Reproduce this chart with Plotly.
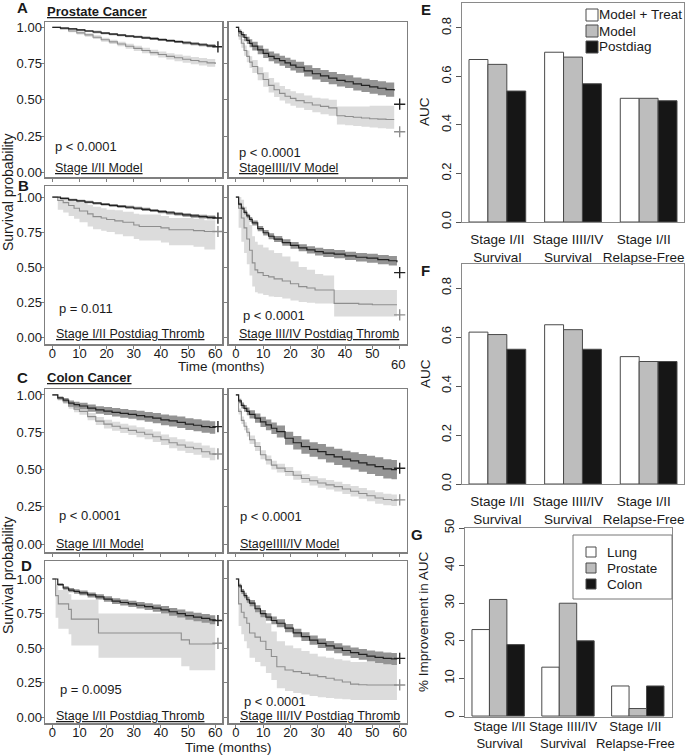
import plotly.graph_objects as go

# ---------------- Kaplan-Meier data ----------------
# Panel A-left: Prostate, Stage I/II Model
A1_t = [0,3,6,9,12,15,18,21,24,27,30,33,36,39,42,45,48,51,54,57,60]
A1_dark = [1,0.995,0.99,0.982,0.975,0.968,0.96,0.953,0.946,0.94,0.934,0.928,0.922,0.915,0.908,0.901,0.894,0.887,0.88,0.873,0.866]
A1_dark_lo = [1,0.99,0.984,0.975,0.968,0.96,0.952,0.945,0.938,0.932,0.926,0.919,0.913,0.906,0.899,0.892,0.884,0.877,0.87,0.862,0.855]
A1_dark_hi = [1,1,0.996,0.989,0.982,0.976,0.968,0.961,0.954,0.948,0.942,0.937,0.931,0.924,0.917,0.91,0.904,0.897,0.89,0.884,0.877]
A1_light = [1,0.99,0.975,0.962,0.948,0.932,0.915,0.9,0.885,0.87,0.855,0.84,0.826,0.813,0.8,0.79,0.78,0.771,0.763,0.755,0.748]
A1_light_lo = [1,0.984,0.966,0.951,0.936,0.919,0.901,0.885,0.869,0.853,0.837,0.821,0.806,0.792,0.778,0.767,0.756,0.746,0.737,0.728,0.72]
A1_light_hi = [1,0.996,0.984,0.973,0.96,0.945,0.929,0.915,0.901,0.887,0.873,0.859,0.846,0.834,0.822,0.813,0.804,0.796,0.789,0.782,0.776]
A1_cens = [[61], [0.866], [], []]

# Panel A-right: Prostate, Stage III/IV Model
A2_t = [0,1,2,3,4,5,6,8,10,12,14,16,18,20,22,25,28,31,34,37,40,43,46,49,52,55,58]
A2_dark = [1,0.97,0.95,0.93,0.91,0.89,0.87,0.845,0.82,0.80,0.785,0.77,0.755,0.74,0.725,0.70,0.68,0.665,0.65,0.635,0.625,0.61,0.60,0.59,0.58,0.57,0.565]
A2_dark_lo = [1,0.955,0.93,0.905,0.885,0.862,0.84,0.815,0.788,0.767,0.751,0.735,0.719,0.703,0.687,0.661,0.64,0.624,0.608,0.592,0.581,0.565,0.554,0.543,0.532,0.521,0.515]
A2_dark_hi = [1,0.985,0.97,0.955,0.935,0.918,0.9,0.875,0.852,0.833,0.819,0.805,0.791,0.777,0.763,0.739,0.72,0.706,0.692,0.678,0.669,0.655,0.646,0.637,0.628,0.619,0.615]
A2_light = [1,0.94,0.89,0.84,0.80,0.76,0.73,0.68,0.64,0.60,0.57,0.545,0.525,0.51,0.495,0.48,0.465,0.455,0.445,0.39,0.385,0.38,0.375,0.37,0.367,0.365,0.365]
A2_light_lo = [1,0.915,0.86,0.805,0.76,0.72,0.685,0.635,0.59,0.55,0.52,0.495,0.475,0.46,0.445,0.43,0.415,0.40,0.39,0.33,0.325,0.32,0.315,0.31,0.305,0.30,0.30]
A2_light_hi = [1,0.965,0.92,0.875,0.84,0.80,0.775,0.725,0.69,0.65,0.62,0.595,0.575,0.56,0.545,0.53,0.515,0.51,0.50,0.455,0.455,0.455,0.455,0.46,0.46,0.46,0.46]
A2_cens = [[60], [0.47], [60], [0.28]]

# Panel B-left: Prostate, Stage I/II Postdiag Thromb
B1_t = [0,3,6,9,12,15,18,21,24,27,30,33,36,39,42,45,48,51,54,57,60]
B1_dark = [1,0.99,0.98,0.972,0.964,0.956,0.948,0.94,0.934,0.927,0.92,0.912,0.904,0.896,0.888,0.88,0.872,0.866,0.86,0.855,0.85]
B1_dark_lo = [1,0.983,0.972,0.963,0.955,0.947,0.939,0.931,0.924,0.917,0.91,0.901,0.893,0.885,0.876,0.868,0.86,0.853,0.847,0.841,0.836]
B1_dark_hi = [1,0.997,0.988,0.981,0.973,0.965,0.957,0.949,0.944,0.937,0.93,0.923,0.915,0.907,0.9,0.892,0.884,0.879,0.873,0.869,0.864]
B1_tl = [0,2,4,6,8,10,13,15,18,20,23,26,30,32,36,40,43,47,52,56,60]
B1_light = [1,0.975,0.96,0.94,0.92,0.90,0.88,0.86,0.85,0.84,0.83,0.82,0.80,0.79,0.79,0.78,0.766,0.766,0.76,0.754,0.754]
B1_light_lo = [1,0.91,0.89,0.865,0.845,0.82,0.79,0.77,0.76,0.75,0.735,0.72,0.70,0.69,0.69,0.675,0.655,0.655,0.645,0.625,0.625]
B1_light_hi = [1,1,0.995,0.985,0.97,0.96,0.945,0.93,0.92,0.91,0.905,0.895,0.88,0.875,0.875,0.865,0.85,0.85,0.845,0.835,0.835]
B1_cens = [[61], [0.85], [61], [0.754]]

# Panel B-right: Prostate, Stage III/IV Postdiag Thromb
B2_t = [0,1,2,3,4,5,6,8,10,12,14,17,20,23,26,29,32,36,40,44,48,52,56,59]
B2_dark = [1,0.95,0.92,0.89,0.865,0.84,0.815,0.775,0.745,0.72,0.70,0.675,0.655,0.637,0.622,0.61,0.60,0.592,0.58,0.57,0.563,0.553,0.545,0.535]
B2_dark_lo = [1,0.94,0.907,0.875,0.849,0.823,0.797,0.756,0.725,0.699,0.678,0.652,0.631,0.612,0.596,0.583,0.572,0.563,0.55,0.539,0.531,0.52,0.511,0.5]
B2_dark_hi = [1,0.96,0.933,0.905,0.881,0.857,0.833,0.794,0.765,0.741,0.722,0.698,0.679,0.662,0.648,0.637,0.628,0.621,0.61,0.601,0.595,0.586,0.579,0.57]
B2_tl = [0,1,2,3,4,5,6,7,8,10,12,14,17,20,23,26,29,32,36,40,45,50,55,59]
B2_light = [1,0.92,0.85,0.78,0.70,0.62,0.53,0.48,0.46,0.44,0.43,0.415,0.40,0.38,0.36,0.35,0.336,0.336,0.24,0.24,0.235,0.23,0.23,0.23]
B2_light_lo = [1,0.78,0.68,0.60,0.52,0.44,0.36,0.32,0.31,0.30,0.29,0.285,0.275,0.26,0.25,0.245,0.24,0.24,0.146,0.146,0.146,0.146,0.146,0.146]
B2_light_hi = [1,1,0.98,0.93,0.87,0.80,0.72,0.68,0.66,0.64,0.62,0.60,0.575,0.54,0.50,0.48,0.45,0.44,0.336,0.336,0.336,0.336,0.336,0.336]
B2_cens = [[60], [0.46], [60], [0.158]]

# Panel C-left: Colon, Stage I/II Model
C1_t = [0,2,4,6,8,10,13,16,19,22,25,28,31,34,37,40,43,46,49,52,55,58,60]
C1_dark = [1,0.98,0.965,0.945,0.935,0.926,0.912,0.9,0.892,0.884,0.877,0.87,0.862,0.853,0.845,0.833,0.826,0.817,0.805,0.797,0.788,0.782,0.78]
C1_dark_lo = [1,0.97,0.95,0.927,0.915,0.904,0.888,0.875,0.865,0.856,0.848,0.84,0.83,0.82,0.81,0.797,0.789,0.779,0.766,0.757,0.747,0.74,0.737]
C1_dark_hi = [1,0.99,0.98,0.963,0.955,0.948,0.936,0.925,0.919,0.912,0.906,0.9,0.894,0.886,0.88,0.869,0.863,0.855,0.844,0.837,0.829,0.824,0.823]
C1_light = [1,0.975,0.955,0.925,0.905,0.89,0.855,0.825,0.805,0.79,0.777,0.763,0.75,0.737,0.72,0.70,0.68,0.665,0.65,0.64,0.62,0.605,0.598]
C1_light_lo = [1,0.963,0.94,0.907,0.884,0.867,0.83,0.798,0.776,0.76,0.746,0.731,0.717,0.703,0.685,0.664,0.643,0.627,0.611,0.6,0.579,0.563,0.555]
C1_light_hi = [1,0.987,0.97,0.943,0.926,0.913,0.88,0.852,0.834,0.82,0.808,0.795,0.783,0.771,0.755,0.736,0.717,0.703,0.689,0.68,0.661,0.647,0.641]
C1_cens = [[61], [0.788], [61], [0.605]]

# Panel C-right: Colon, Stage III/IV Model
C2_t = [0,1,2,3,4,5,7,9,11,13,15,18,21,24,27,30,33,36,39,42,45,48,51,54,57,59]
C2_dark = [1,0.96,0.93,0.91,0.89,0.87,0.845,0.82,0.80,0.777,0.755,0.71,0.68,0.654,0.635,0.62,0.60,0.585,0.57,0.558,0.545,0.532,0.52,0.505,0.50,0.50]
C2_dark_lo = [1,0.945,0.91,0.887,0.864,0.842,0.814,0.786,0.764,0.739,0.715,0.667,0.635,0.607,0.586,0.569,0.547,0.531,0.514,0.5,0.486,0.471,0.457,0.441,0.436,0.436]
C2_dark_hi = [1,0.975,0.95,0.933,0.916,0.898,0.876,0.854,0.836,0.815,0.795,0.753,0.725,0.701,0.684,0.671,0.653,0.639,0.626,0.616,0.604,0.593,0.583,0.569,0.564,0.564]
C2_light = [1,0.89,0.83,0.79,0.75,0.70,0.655,0.60,0.565,0.53,0.51,0.487,0.462,0.44,0.425,0.41,0.398,0.386,0.37,0.355,0.34,0.325,0.31,0.30,0.295,0.292]
C2_light_lo = [1,0.87,0.805,0.763,0.722,0.671,0.625,0.57,0.535,0.5,0.48,0.457,0.432,0.41,0.394,0.378,0.366,0.353,0.336,0.32,0.304,0.288,0.272,0.262,0.256,0.253]
C2_light_hi = [1,0.91,0.855,0.817,0.778,0.729,0.685,0.63,0.595,0.56,0.54,0.517,0.492,0.47,0.456,0.442,0.43,0.419,0.404,0.39,0.376,0.362,0.348,0.338,0.334,0.331]
C2_cens = [[60], [0.509], [60], [0.297]]

# Panel D-left: Colon, Stage I/II Postdiag Thromb
D1_t = [0,2,4,6,8,10,13,16,19,22,25,28,31,34,37,40,43,46,49,52,55,58,60]
D1_dark = [1,0.96,0.935,0.92,0.91,0.90,0.885,0.87,0.855,0.84,0.83,0.82,0.81,0.80,0.79,0.777,0.763,0.75,0.735,0.725,0.715,0.705,0.70]
D1_dark_lo = [1,0.95,0.922,0.905,0.894,0.883,0.867,0.851,0.835,0.819,0.808,0.797,0.786,0.775,0.764,0.75,0.735,0.721,0.705,0.694,0.683,0.672,0.667]
D1_dark_hi = [1,0.97,0.948,0.935,0.926,0.917,0.903,0.889,0.875,0.861,0.852,0.843,0.834,0.825,0.816,0.804,0.791,0.779,0.765,0.756,0.747,0.738,0.733]
D1_tl = [0,1.2,2.2,6,7,17,47.5,50.5,60]
D1_light = [1,0.88,0.82,0.78,0.71,0.61,0.56,0.53,0.53]
D1_light_lo = [1,0.72,0.64,0.60,0.52,0.43,0.37,0.34,0.34]
D1_light_hi = [1,0.96,0.92,0.89,0.85,0.75,0.74,0.73,0.73]
D1_cens = [[61], [0.70], [61], [0.535]]

# Panel D-right: Colon, Stage III/IV Postdiag Thromb
D2_t = [0,1,2,3,4,5,7,9,11,13,15,18,21,24,27,30,33,36,39,42,45,48,51,54,57,59]
D2_dark = [1,0.95,0.91,0.88,0.85,0.825,0.785,0.75,0.725,0.70,0.68,0.645,0.61,0.583,0.558,0.535,0.517,0.50,0.483,0.467,0.455,0.443,0.434,0.426,0.422,0.42]
D2_dark_lo = [1,0.935,0.892,0.86,0.828,0.802,0.76,0.724,0.698,0.672,0.651,0.615,0.579,0.551,0.525,0.501,0.482,0.464,0.446,0.429,0.416,0.403,0.393,0.384,0.379,0.377]
D2_dark_hi = [1,0.965,0.928,0.9,0.872,0.848,0.81,0.776,0.752,0.728,0.709,0.675,0.641,0.615,0.591,0.569,0.552,0.536,0.52,0.505,0.494,0.483,0.475,0.468,0.465,0.463]
D2_light = [1,0.82,0.76,0.72,0.68,0.61,0.58,0.55,0.49,0.44,0.366,0.342,0.33,0.318,0.305,0.294,0.282,0.27,0.255,0.24,0.236,0.234,0.234,0.234,0.234,0.234]
D2_light_lo = [1,0.66,0.60,0.55,0.50,0.43,0.40,0.37,0.32,0.27,0.21,0.19,0.175,0.165,0.155,0.145,0.14,0.135,0.13,0.125,0.125,0.125,0.125,0.125,0.125,0.125]
D2_light_hi = [1,0.95,0.92,0.88,0.84,0.80,0.77,0.74,0.68,0.62,0.55,0.52,0.50,0.48,0.46,0.44,0.43,0.42,0.41,0.40,0.40,0.40,0.40,0.40,0.40,0.40]
D2_cens = [[60], [0.426], [60], [0.234]]

# ---------------- Bar chart data ----------------
bar_cats = ["Stage I/II<br>Survival", "Stage IIII/IV<br>Survival", "Stage I/II<br>Relapse-Free"]
E_model_treat = [0.67, 0.70, 0.51]
E_model = [0.65, 0.68, 0.51]
E_postdiag = [0.54, 0.57, 0.50]
F_model_treat = [0.62, 0.65, 0.52]
F_model = [0.61, 0.63, 0.50]
F_postdiag = [0.55, 0.55, 0.50]
G_lung = [23, 13, 8]
G_prostate = [31, 30, 2]
G_colon = [19, 20, 8]
E_legend = ["Model + Treat", "Model", "Postdiag"]
G_legend = ["Lung", "Prostate", "Colon"]

km_yticks = [0, 0.25, 0.5, 0.75, 1.0]
km_yticklabels = ["0.00", "0.25", "0.50", "0.75", "1.00"]
km_xticks = [0, 10, 20, 30, 40, 50, 60]

# ---------------- Styling / layout helpers ----------------
W, H = 685, 755
FONT = "Liberation Sans, Arial, Helvetica, sans-serif"
TXT = "#1a1a1a"
BOX = "#7f7f7f"
DARK_LINE, DARK_BAND = "#222222", "#949494"
LIGHT_LINE, LIGHT_BAND = "#8e8e8e", "#dcdcdc"


def xd(a, b):
    return [a / W, b / W]


def yd(top, bottom):
    return [1 - bottom / H, 1 - top / H]


def px(x):
    return x / W


def py(y):
    return 1 - y / H


fig = go.Figure()
layout = {}
annotations = []
shapes = []


def ann(x, y, text, size=13, xanchor="left", yanchor="middle", angle=0, bold=False):
    if bold:
        text = "<b>" + text + "</b>"
    annotations.append(dict(x=px(x), y=py(y), xref="paper", yref="paper", text=text,
                            showarrow=False, xanchor=xanchor, yanchor=yanchor, textangle=angle,
                            font=dict(family=FONT, size=size, color=TXT)))


cols = {"L": (45, 222), "R": (228.5, 406.5)}
rows = {"A": (22, 177, [-0.032, 1.037]), "B": (186, 344, [-0.05, 1.079]),
        "C": (389, 552, [-0.052, 1.04]), "D": (561, 723, [-0.041, 1.13])}

km_panels = [
    ("A", "L", A1_t, A1_dark, A1_dark_lo, A1_dark_hi, A1_t, A1_light, A1_light_lo, A1_light_hi, A1_cens,
     False, "p &lt; 0.0001", "Stage I/II Model", 53, 147, 53, 168),
    ("A", "R", A2_t, A2_dark, A2_dark_lo, A2_dark_hi, A2_t, A2_light, A2_light_lo, A2_light_hi, A2_cens,
     False, "p &lt; 0.0001", "StageIIII/IV Model", 237, 152, 237, 168),
    ("B", "L", B1_t, B1_dark, B1_dark_lo, B1_dark_hi, B1_tl, B1_light, B1_light_lo, B1_light_hi, B1_cens,
     True, "p = 0.011", "Stage I/II Postdiag Thromb", 57, 308, 54, 334),
    ("B", "R", B2_t, B2_dark, B2_dark_lo, B2_dark_hi, B2_tl, B2_light, B2_light_lo, B2_light_hi, B2_cens,
     True, "p &lt; 0.0001", "Stage III/IV Postdiag Thromb", 241, 316, 237, 334),
    ("C", "L", C1_t, C1_dark, C1_dark_lo, C1_dark_hi, C1_t, C1_light, C1_light_lo, C1_light_hi, C1_cens,
     False, "p &lt; 0.0001", "Stage I/II Model", 57, 515, 54, 544),
    ("C", "R", C2_t, C2_dark, C2_dark_lo, C2_dark_hi, C2_t, C2_light, C2_light_lo, C2_light_hi, C2_cens,
     False, "p &lt; 0.0001", "StageIIII/IV Model", 238, 516, 238, 544),
    ("D", "L", D1_t, D1_dark, D1_dark_lo, D1_dark_hi, D1_tl, D1_light, D1_light_lo, D1_light_hi, D1_cens,
     True, "p = 0.0095", "Stage I/II Postdiag Thromb", 58, 689, 54, 716),
    ("D", "R", D2_t, D2_dark, D2_dark_lo, D2_dark_hi, D2_t, D2_light, D2_light_lo, D2_light_hi, D2_cens,
     True, "p &lt; 0.0001", "Stage III/IV Postdiag Thromb", 242, 701, 238, 716),
]

for i, (r, c, td, sd, dlo, dhi, tl, sl, llo, lhi, cens, showx, ptxt, title, pxx, pyy, tx, ty) in enumerate(km_panels, start=1):
    xa = "x" if i == 1 else f"x{i}"
    ya = "y" if i == 1 else f"y{i}"
    xk = "xaxis" if i == 1 else f"xaxis{i}"
    yk = "yaxis" if i == 1 else f"yaxis{i}"
    top, bottom, yr = rows[r]
    x0, x1 = cols[c]

    def band(t, lo, hi, color):
        fig.add_trace(go.Scatter(x=t, y=lo, mode="lines", line=dict(width=0, shape="hv", color=color),
                                 xaxis=xa, yaxis=ya, showlegend=False, hoverinfo="skip"))
        fig.add_trace(go.Scatter(x=t, y=hi, mode="lines", line=dict(width=0, shape="hv", color=color),
                                 fill="tonexty", fillcolor=color, xaxis=xa, yaxis=ya, showlegend=False,
                                 hoverinfo="skip"))

    band(tl, llo, lhi, LIGHT_BAND)
    band(td, dlo, dhi, DARK_BAND)
    fig.add_trace(go.Scatter(x=tl, y=sl, mode="lines", line=dict(width=1.1, shape="hv", color=LIGHT_LINE),
                             xaxis=xa, yaxis=ya, showlegend=False))
    fig.add_trace(go.Scatter(x=td, y=sd, mode="lines", line=dict(width=1.2, shape="hv", color=DARK_LINE),
                             xaxis=xa, yaxis=ya, showlegend=False))
    fig.add_trace(go.Scatter(x=cens[0], y=cens[1], mode="markers",
                             marker=dict(symbol="cross-thin", size=8, line=dict(width=1.4, color=DARK_LINE)),
                             xaxis=xa, yaxis=ya, showlegend=False))
    fig.add_trace(go.Scatter(x=cens[2], y=cens[3], mode="markers",
                             marker=dict(symbol="cross-thin", size=8, line=dict(width=1.4, color=LIGHT_LINE)),
                             xaxis=xa, yaxis=ya, showlegend=False))

    ticktext = [str(v) for v in km_xticks]
    if r == "B" and c == "R":
        ticktext[-1] = ""
    layout[xk] = dict(domain=xd(x0, x1), range=[-2.7, 62.5], anchor=ya, tickvals=km_xticks,
                      ticktext=ticktext, ticks="outside", ticklen=3, tickcolor=BOX, showline=True,
                      mirror=True, linecolor=BOX, linewidth=1.5, showgrid=False, zeroline=False,
                      showticklabels=showx, tickfont=dict(family=FONT, size=13, color=TXT),
                      ticklabelstandoff=-6, fixedrange=True, automargin=False)
    layout[yk] = dict(domain=yd(top, bottom), range=yr, anchor=xa, tickvals=km_yticks,
                      ticktext=km_yticklabels, ticks="outside", ticklen=3, tickcolor=BOX, showline=True,
                      mirror=True, linecolor=BOX, linewidth=1.5, showgrid=False, zeroline=False,
                      showticklabels=(c == "L"), tickfont=dict(family=FONT, size=13, color=TXT),
                      ticklabelstandoff=-4, fixedrange=True, automargin=False)

    ann(pxx, pyy, ptxt, size=13)
    ann(tx, ty, "<u>" + title + "</u>", size=12.5)

# ---------------- Bar panels ----------------
bar_panels = [
    (9, (462, 684), (3, 222), [0, 0.903], [E_model_treat, E_model, E_postdiag], [0, 0.2, 0.4, 0.6, 0.8],
     ["0.0", "0.2", "0.4", "0.6", "0.8"], [-0.4675, 2.4675], 13.5, 5, [0, 0.935, 1.935]),
    (10, (462, 684), (264, 484), [0, 0.898], [F_model_treat, F_model, F_postdiag], [0, 0.2, 0.4, 0.6, 0.8],
     ["0.0", "0.2", "0.4", "0.6", "0.8"], [-0.4675, 2.4675], 13.5, 5, [0, 0.935, 1.935]),
    (11, (465, 672), (528, 717), [-0.25, 50], [G_lung, G_prostate, G_colon], [0, 10, 20, 30, 40, 50],
     ["0", "10", "20", "30", "40", "50"], [-0.475, 2.49], 13, -3, [0.02, 0.93, 1.965]),
]
bar_colors = ["#ffffff", "#bdbdbd", "#161616"]
for i, xdom, ydom, yr, series, tv, tt, xr, fs, so, xtv in bar_panels:
    xa, ya = f"x{i}", f"y{i}"
    for vals, col in zip(series, bar_colors):
        fig.add_trace(go.Bar(x=bar_cats, y=vals, marker=dict(color=col, line=dict(color="#4a4a4a", width=1)),
                             xaxis=xa, yaxis=ya, showlegend=False))
    layout[f"xaxis{i}"] = dict(domain=xd(*xdom), range=xr, anchor=ya, type="category", ticks="",
                               tickmode="array", tickvals=xtv, ticktext=bar_cats,
                               tickangle=0, showline=True, mirror=True, linecolor="#8a8a8a", linewidth=1,
                               showgrid=False, zeroline=False, tickfont=dict(family=FONT, size=fs, color=TXT),
                               ticklabelstandoff=so, fixedrange=True, automargin=False)
    layout[f"yaxis{i}"] = dict(domain=yd(*ydom), range=yr, anchor=xa, tickvals=tv, ticktext=tt,
                               ticks="outside", ticklen=5, tickcolor="#555555", tickangle=-90,
                               showline=True, mirror=True, linecolor="#8a8a8a", linewidth=1, showgrid=False,
                               zeroline=False, tickfont=dict(family=FONT, size=13, color=TXT),
                               fixedrange=True, automargin=False)

# Legend E (no border)
for k, (lab, col) in enumerate(zip(E_legend, bar_colors)):
    yc = 15 + 16 * k
    shapes.append(dict(type="rect", xref="paper", yref="paper", x0=px(586), x1=px(598), y0=py(yc + 6),
                       y1=py(yc - 6), fillcolor=col, line=dict(color="#4a4a4a", width=1)))
    ann(597, yc, lab, size=13.5)

# Legend G (bordered)
shapes.append(dict(type="rect", xref="paper", yref="paper", x0=px(573), x1=px(672), y0=py(599), y1=py(535),
                   fillcolor="rgba(0,0,0,0)", line=dict(color="#777777", width=1)))
for k, (lab, col) in enumerate(zip(G_legend, bar_colors)):
    yc = 552 + 16 * k
    shapes.append(dict(type="rect", xref="paper", yref="paper", x0=px(586), x1=px(596), y0=py(yc + 5),
                       y1=py(yc - 5), fillcolor=col, line=dict(color="#4a4a4a", width=1)))
    ann(605, yc, lab, size=13.5)

# ---------------- Titles, letters, axis labels ----------------
ann(45, 12, "<u>Prostate Cancer</u>", size=13, bold=True)
ann(45, 377, "<u>Colon Cancer</u>", size=13, bold=True)
for letter, lx, ly in [("A", 22, 8), ("B", 23, 185), ("C", 22, 377), ("D", 26, 565),
                       ("E", 426, 9), ("F", 425, 270), ("G", 417, 534)]:
    ann(lx, ly, letter, size=15, xanchor="center", bold=True)

ann(8, 192, "Survival probability", size=14, xanchor="center", angle=-90)
ann(8, 575, "Survival probability", size=14, xanchor="center", angle=-90)
ann(221, 366, "Time (months)", size=13.5, xanchor="center")
ann(228, 747, "Time (months)", size=13.5, xanchor="center")
ann(398, 364, "60", size=13, xanchor="center")
ann(425, 112, "AUC", size=13.5, xanchor="center", angle=-90)
ann(425, 374, "AUC", size=13.5, xanchor="center", angle=-90)
ann(423, 622, "% Improvement in AUC", size=13.5, xanchor="center", angle=-90)

fig.update_layout(width=W, height=H, margin=dict(l=0, r=0, t=0, b=0, pad=0), plot_bgcolor="white",
                  paper_bgcolor="white", barmode="group", bargap=0.25, bargroupgap=0,
                  annotations=annotations, shapes=shapes, showlegend=False,
                  font=dict(family=FONT, color=TXT), **layout)

fig.write_html("out.html", config={"displayModeBar": False, "staticPlot": True},
               post_script="document.body.style.margin='0px';document.body.style.padding='0px';"
                           "document.body.style.overflow='hidden';")
